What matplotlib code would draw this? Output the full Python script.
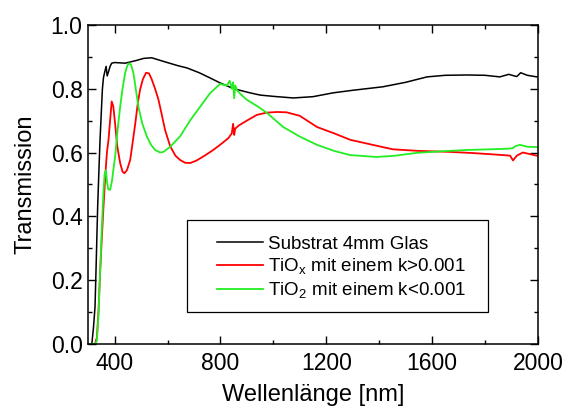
import matplotlib
matplotlib.use("Agg")
import matplotlib.pyplot as plt
from matplotlib.ticker import MultipleLocator
from matplotlib.patches import Rectangle

plt.rcParams['font.family'] = ['Liberation Sans', 'DejaVu Sans']
plt.rcParams['mathtext.fontset'] = 'custom'
plt.rcParams['mathtext.rm'] = 'Liberation Sans'

# Substrat (4mm Glas)
wl_glas = [300, 314, 320, 326, 331, 336, 341, 345, 350, 354, 358, 362, 368, 372, 377,
           383, 389, 400, 440, 480, 510, 540, 591, 640, 674, 720, 770, 799, 850,
           912, 950, 1000, 1075, 1150, 1226, 1300, 1414, 1500, 1581, 1650, 1732,
           1800, 1856, 1890, 1920, 1935, 1960, 1996, 2000]
t_glas = [0.0, 0.0, 0.05, 0.116, 0.27, 0.43, 0.55, 0.64, 0.73, 0.80, 0.835, 0.85, 0.87,
          0.84, 0.853, 0.87, 0.88, 0.882, 0.88, 0.888, 0.895, 0.897, 0.884, 0.872, 0.865,
          0.85, 0.83, 0.818, 0.80, 0.787, 0.78, 0.776, 0.771, 0.775, 0.787, 0.795, 0.806,
          0.82, 0.837, 0.842, 0.843, 0.842, 0.837, 0.845, 0.838, 0.85, 0.842, 0.837, 0.838]

# TiOx, k > 0.001
wl_tiox = [300, 326, 333, 339, 345, 351, 358, 365, 371, 377, 383, 389, 395, 402, 410,
           421, 430, 437, 447, 459, 468, 478, 487, 496, 507, 519, 530, 540, 553,
           566, 578, 591, 610, 630, 647, 666, 686, 710, 740, 773, 800, 830, 843,
           848, 852, 856, 870, 900, 938, 975, 1014, 1050, 1100, 1165, 1230, 1290,
           1370, 1452, 1550, 1667, 1760, 1868, 1895, 1906, 1920, 1943, 1970, 1996, 2000]
t_tiox = [0.0, 0.0, 0.02, 0.10, 0.22, 0.32, 0.43, 0.53, 0.60, 0.64, 0.70, 0.76, 0.745,
          0.69, 0.62, 0.567, 0.54, 0.535, 0.545, 0.577, 0.63, 0.69, 0.75, 0.796, 0.83,
          0.85, 0.848, 0.83, 0.80, 0.765, 0.72, 0.67, 0.62, 0.59, 0.577, 0.568, 0.567,
          0.575, 0.59, 0.608, 0.625, 0.645, 0.66, 0.69, 0.655, 0.675, 0.685, 0.70, 0.718,
          0.725, 0.727, 0.726, 0.715, 0.68, 0.66, 0.64, 0.625, 0.61, 0.605, 0.602, 0.598,
          0.592, 0.59, 0.575, 0.59, 0.60, 0.595, 0.59, 0.59]

# TiO2, k < 0.001
wl_tio2 = [300, 326, 333, 339, 345, 351, 358, 362, 367, 371, 376, 383, 390, 396, 402,
           410, 421, 430, 440, 448, 455, 462, 471, 480, 490, 505, 522, 537, 553,
           572, 585, 610, 647, 685, 723, 760, 787, 799, 812, 825, 835, 843, 848,
           852, 856, 863, 880, 900, 940, 976, 1037, 1100, 1165, 1230, 1290, 1390,
           1460, 1543, 1640, 1732, 1820, 1890, 1906, 1915, 1932, 1960, 1996, 2000]
t_tio2 = [0.0, 0.0, 0.01, 0.09, 0.22, 0.35, 0.48, 0.53, 0.545, 0.51, 0.485, 0.483,
          0.51, 0.55, 0.587, 0.66, 0.743, 0.80, 0.85, 0.872, 0.88, 0.875, 0.85, 0.80,
          0.743, 0.69, 0.65, 0.625, 0.608, 0.60, 0.602, 0.618, 0.65, 0.70, 0.743, 0.785,
          0.806, 0.815, 0.812, 0.81, 0.825, 0.80, 0.82, 0.77, 0.81, 0.795, 0.78, 0.765,
          0.745, 0.724, 0.68, 0.65, 0.624, 0.605, 0.592, 0.586, 0.59, 0.599, 0.604,
          0.608, 0.61, 0.612, 0.614, 0.62, 0.624, 0.618, 0.617, 0.617]

fig = plt.figure(figsize=(5.65, 4.08), dpi=100)
ax = fig.add_axes([0.156, 0.157, 0.796, 0.782])

ax.plot(wl_glas, t_glas, color='black', linewidth=1.1, label='Substrat 4mm Glas')
ax.plot(wl_tiox, t_tiox, color='#ff0000', linewidth=1.3, label='TiO$_\\mathregular{x}$ mit einem k>0.001')
ax.plot(wl_tio2, t_tio2, color='#22ee22', linewidth=1.3, label='TiO$_\\mathregular{2}$ mit einem k<0.001')

ax.set_xlim(300, 2000)
ax.set_ylim(0, 1.0)
ax.set_xticks([400, 800, 1200, 1600, 2000])
ax.xaxis.set_minor_locator(MultipleLocator(200))
ax.set_yticks([0.0, 0.2, 0.4, 0.6, 0.8, 1.0])
ax.yaxis.set_minor_locator(MultipleLocator(0.1))
ax.yaxis.set_major_formatter(plt.FormatStrFormatter('%.1f'))

ax.tick_params(which='both', direction='in', top=True, right=True, labelsize=16.5)
ax.tick_params(which='major', length=6, width=1)
ax.tick_params(which='minor', length=3, width=1)
ax.tick_params(axis='x', pad=6)
ax.tick_params(axis='y', pad=4)
for sp in ax.spines.values():
    sp.set_linewidth(1.1)

ax.set_xlabel('Wellenlänge [nm]', fontsize=17, labelpad=6)
ax.set_ylabel('Transmission', fontsize=17, labelpad=10)

# legend box drawn separately, wider on the right than the entries need
ax.add_patch(Rectangle((0.22, 0.10), 0.669, 0.289, transform=ax.transAxes,
                       facecolor='white', edgecolor='black', linewidth=0.9, zorder=4))
leg = ax.legend(loc='upper left', bbox_to_anchor=(0.2867, 0.340), fontsize=13.5,
                frameon=False, handlelength=2.45, labelspacing=0.2, borderpad=0,
                borderaxespad=0, handletextpad=0.27)
leg.set_zorder(5)

fig.savefig('out.png', dpi=100)
